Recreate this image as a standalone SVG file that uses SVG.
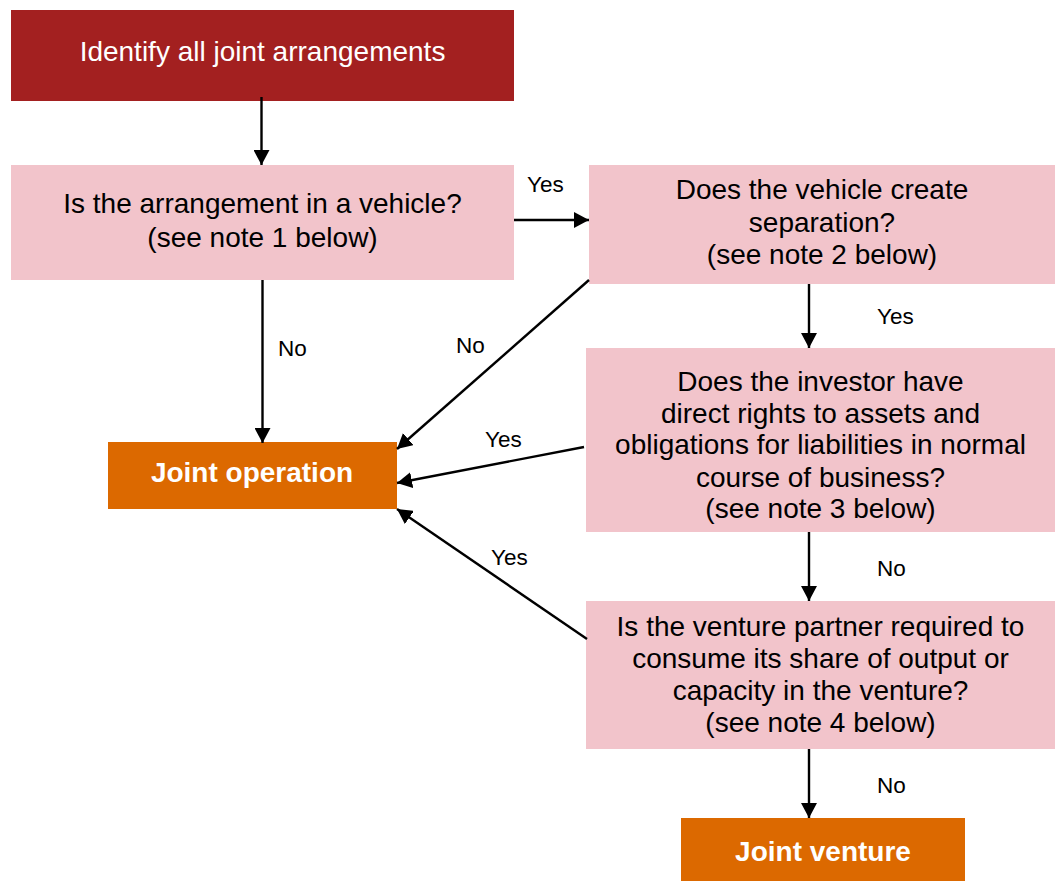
<svg xmlns="http://www.w3.org/2000/svg" width="1055" height="881" viewBox="0 0 1055 881">
<defs>
<marker id="ah" markerUnits="userSpaceOnUse" markerWidth="16" markerHeight="16" refX="15" refY="8" orient="auto">
<path d="M0,0 L15,8 L0,16 z" fill="#000"/>
</marker>
<style>
.t{font-family:"Liberation Sans",Arial,sans-serif;font-size:28px;text-anchor:middle;fill:#000}
.w{fill:#fff}
.b{font-weight:bold}
.lbl{font-family:"Liberation Sans",Arial,sans-serif;font-size:22.5px;fill:#000}
.pink{fill:#F2C4CB}
.orange{fill:#DC6900}
.red{fill:#A32020}
.c{stroke:#000;stroke-width:2.4;fill:none;marker-end:url(#ah)}
</style>
</defs>
<rect width="1055" height="881" fill="#fff"/>
<g id="identify">
<rect class="red" x="11" y="10" width="503" height="91"/>
<text class="t w" x="262.5" y="61">Identify all joint arrangements</text>
</g>
<g id="vehicle">
<rect class="pink" x="11" y="165" width="503" height="115"/>
<text class="t" x="262.5" y="213">Is the arrangement in a vehicle?</text>
<text class="t" x="262.5" y="247">(see note 1 below)</text>
</g>
<g id="separation">
<rect class="pink" x="589" y="165" width="466" height="119"/>
<text class="t" x="822" y="199">Does the vehicle create</text>
<text class="t" x="822" y="232">separation?</text>
<text class="t" x="822" y="264">(see note 2 below)</text>
</g>
<g id="rights">
<rect class="pink" x="586" y="348" width="469" height="184"/>
<text class="t" x="820.5" y="391">Does the investor have</text>
<text class="t" x="820.5" y="423">direct rights to assets and</text>
<text class="t" x="820.5" y="454">obligations for liabilities in normal</text>
<text class="t" x="820.5" y="487">course of business?</text>
<text class="t" x="820.5" y="518">(see note 3 below)</text>
</g>
<g id="consume">
<rect class="pink" x="586" y="601" width="469" height="148"/>
<text class="t" x="820.5" y="636">Is the venture partner required to</text>
<text class="t" x="820.5" y="668">consume its share of output or</text>
<text class="t" x="820.5" y="700">capacity in the venture?</text>
<text class="t" x="820.5" y="732">(see note 4 below)</text>
</g>
<g id="joint-operation">
<rect class="orange" x="108" y="442" width="289" height="67"/>
<text class="t w b" x="252" y="482">Joint operation</text>
</g>
<g id="joint-venture">
<rect class="orange" x="681" y="818" width="284" height="63"/>
<text class="t w b" x="823" y="861">Joint venture</text>
</g>
<g id="connectors">
<line class="c" x1="261.5" y1="97" x2="261.5" y2="165"/>
<line class="c" x1="514" y1="220" x2="589" y2="220"/>
<line class="c" x1="262.5" y1="280" x2="262.5" y2="443"/>
<line class="c" x1="589" y1="280" x2="397" y2="449"/>
<line class="c" x1="584" y1="447" x2="397" y2="483"/>
<line class="c" x1="587" y1="639" x2="397" y2="509"/>
<line class="c" x1="809" y1="284" x2="809" y2="348"/>
<line class="c" x1="809" y1="532" x2="809" y2="601"/>
<line class="c" x1="809" y1="749" x2="809" y2="818"/>
</g>
<g id="labels">
<text class="lbl" x="527" y="192">Yes</text>
<text class="lbl" x="278" y="356">No</text>
<text class="lbl" x="456" y="353">No</text>
<text class="lbl" x="485" y="447">Yes</text>
<text class="lbl" x="491" y="565">Yes</text>
<text class="lbl" x="877" y="324">Yes</text>
<text class="lbl" x="877" y="576">No</text>
<text class="lbl" x="877" y="793">No</text>
</g>
</svg>
